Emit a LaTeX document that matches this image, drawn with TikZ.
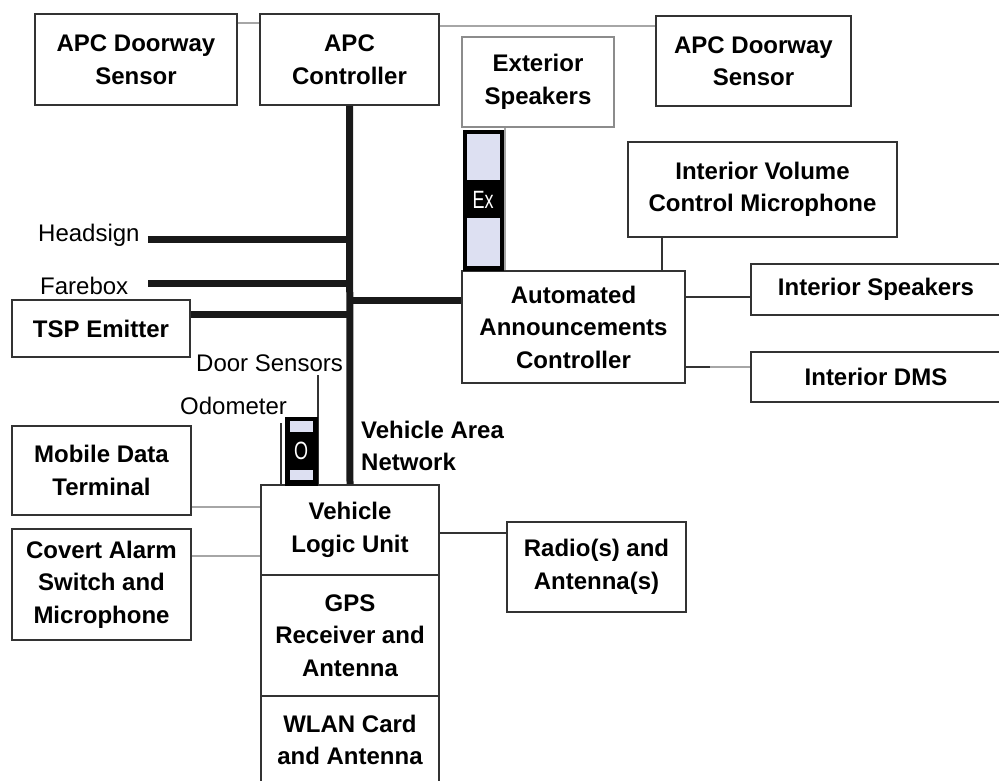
\documentclass[tikz,border=0pt]{standalone}
\usepackage{fontspec}
\setmainfont{Liberation Sans}

\definecolor{lavender}{HTML}{DDE0F2}

\tikzset{
  unit/.style={draw=black!80, line width=1.6pt, fill=white, inner sep=0pt,
    align=center, font=\fontsize{24}{32.5}\selectfont\bfseries},
  paleunit/.style={unit, draw=black!45},
  tag/.style={inner sep=0pt, font=\fontsize{24}{29}\selectfont},
  plug/.style={fill=black, draw=black, inner sep=0pt, text=white,
    font=\fontsize{25}{28}\selectfont},
  cell/.style={fill=lavender},
  busline/.style={line width=7pt, black!90},
  link/.style={line width=1.6pt, black!80},
  faint/.style={line width=1.8pt, black!35},
}
% narrow lettering on the plugs
\newcommand{\plugtext}[1]{\scalebox{0.72}[1]{#1}}

\begin{document}
\begin{tikzpicture}[x=1pt,y=-1pt]
\useasboundingbox (0,0) rectangle (999,781);
\clip (0,0) rectangle (999,781);

% top row
\node[unit, minimum width=202pt, minimum height=91pt] (doorL) at (136,59.5) {APC Doorway\\Sensor};
\node[unit, minimum width=179pt, minimum height=91pt] (apc) at (349.5,59.5) {APC\\Controller};
\node[unit, minimum width=195pt, minimum height=90pt] (doorR) at (753.5,61) {APC Doorway\\Sensor};
\node[paleunit, minimum width=152pt, minimum height=90pt] (extspk) at (538,82) {Exterior\\Speakers};

% announcement side
\node[unit, minimum width=269pt, minimum height=95pt] (ivcm) at (762.5,189.5) {Interior Volume\\Control Microphone};
\node[unit, minimum width=223pt, minimum height=112pt] (aac) at (573.5,327) {Automated\\Announcements\\Controller};
\node[unit, minimum width=250pt, minimum height=51pt] (intspk) at (876,289.5) {Interior Speakers};
\node[unit, minimum width=250pt, minimum height=50pt] (dms) at (876,377) {Interior DMS};

% left side
\node[unit, minimum width=178pt, minimum height=57pt] (tsp) at (101,328.5) {TSP Emitter};
\node[unit, minimum width=179pt, minimum height=89pt] (mdt) at (101.5,470.5) {Mobile Data\\Terminal};
\node[unit, minimum width=179pt, minimum height=111pt] (covert) at (101.5,584.5) {Covert Alarm\\Switch and\\Microphone};

% vehicle logic unit stack
\node[unit, minimum width=178pt, minimum height=90pt] (vlu) at (350,530) {Vehicle\\Logic Unit};
\node[unit, minimum width=178pt, minimum height=121pt] (gps) at (350,635.5) {GPS\\Receiver and\\Antenna};
\node[unit, minimum width=178pt, minimum height=88pt] (wlan) at (350,740) {WLAN Card\\and Antenna};
\node[unit, minimum width=179pt, minimum height=90pt] (radio) at (596.5,567) {Radio(s) and\\Antenna(s)};

% plain labels
\node[tag, anchor=base west] (headsign) at (38,241) {Headsign};
\node[tag, anchor=base west] (farebox) at (40,294) {Farebox};
\node[tag, anchor=base west] (doorsens) at (196,371) {Door Sensors};
\node[tag, anchor=base west] (odometer) at (180,414) {Odometer};
\node[tag, anchor=west, align=left, font=\fontsize{24}{32}\selectfont\bfseries] (van) at (361,446) {Vehicle Area\\Network};

% vehicle area network
\draw[busline] (apc.south) -- (vlu.north);
\draw[busline] ([xshift=8pt,yshift=2pt]headsign.base east) -- ([yshift=2pt]headsign.base east -| apc.south);
\draw[busline] ([xshift=20pt,yshift=11pt]farebox.base east) -- ([yshift=11pt]farebox.base east -| apc.south);
\draw[busline] ([yshift=14.5pt]tsp.east) -- ([yshift=14.5pt]tsp.east -| apc.south);
\draw[busline] ([yshift=27pt]aac.west -| apc.south) -- ([yshift=27pt]aac.west);

% thin links
\draw[faint] ([yshift=-10pt]doorL.north east) -- ([yshift=-10pt]apc.north west);
\draw[faint] ([yshift=-13pt]apc.north east) -- ([yshift=-11pt]doorR.north west);
\draw[faint] ([xshift=44pt]extspk.south west) -- ([xshift=44pt]extspk.south west |- aac.north);
\draw[link] ([xshift=35pt]ivcm.south west) -- ([xshift=35pt]ivcm.south west |- aac.north);
\draw[link] ([yshift=-7.5pt]intspk.west -| aac.east) -- ([yshift=-7.5pt]intspk.west);
\draw[link] ([yshift=10pt]dms.west -| aac.east) -- ++(24,0) coordinate (dmsmid);
\draw[faint] (dmsmid) -- ([yshift=10pt]dms.west);
\draw[faint] ([yshift=-36.5pt]mdt.east) -- ([yshift=-36.5pt]mdt.east -| vlu.west);
\draw[faint] ([yshift=28.5pt]covert.east) -- ([yshift=28.5pt]covert.east -| vlu.west);
\draw[link] ([yshift=34pt]radio.west -| vlu.east) -- ([yshift=34pt]radio.west);
\draw[link] ([xshift=-25pt,yshift=-4pt]doorsens.base east) -- ([xshift=-25pt]doorsens.base east |- vlu.north);
\draw[link] ([xshift=-6pt,yshift=-9pt]odometer.base east) -- ([xshift=-6pt]odometer.base east |- vlu.north);

% plugs
\node[plug, minimum width=40pt, minimum height=140pt] (explug) at (483,200) {\plugtext{Ex}};
\fill[cell] (467,134) rectangle (500,180);
\fill[cell] (467,218) rectangle (500,266);
\node[plug, minimum width=32pt, minimum height=68pt] (odoplug) at (301,451) {\plugtext{O}};
\fill[cell] (290,421) rectangle (313,432);
\fill[cell] (290,470) rectangle (313,480);
\end{tikzpicture}
\end{document}
